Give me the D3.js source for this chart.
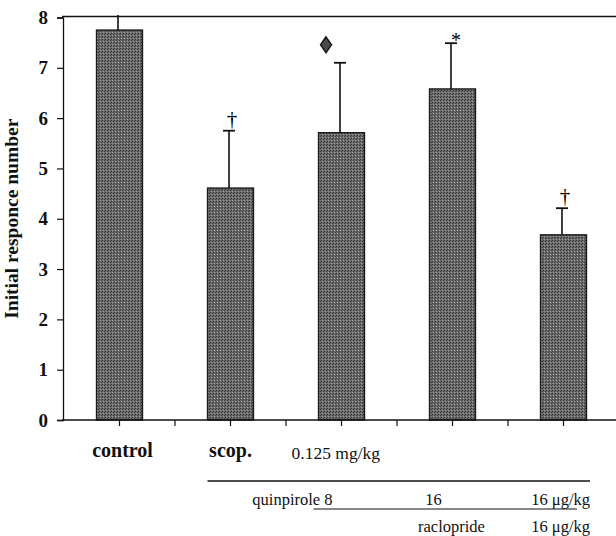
<!DOCTYPE html>
<html>
<head>
<meta charset="utf-8">
<script src="https://cdnjs.cloudflare.com/ajax/libs/d3/7.8.5/d3.min.js"></script>
<style>
  body { margin: 0; background: #fff; }
  svg { display: block; }
  text { font-family: "Liberation Serif", "DejaVu Serif", serif; }
</style>
</head>
<body>
<svg id="chart" width="616" height="536"></svg>
<script>
// data
const groups = ["control", "scop.", "quin8", "quin16", "quin16+raclo16"]
const means = [7.75, 4.61, 5.71, 6.58, 3.68]
const errs = [0.3, 1.14, 1.39, 0.91, 0.53]
const marks = ["", "†", "♦", "*", "†"]
const yTicks = [0, 1, 2, 3, 4, 5, 6, 7, 8]

const serif = "Liberation Serif"
const svg = d3.select("#chart")

const x = d3.scaleBand()
  .domain(groups)
  .range([64, 619])
  .paddingInner(0.586)
  .paddingOuter(0.293)
const y = d3.scaleLinear()
  .domain([0, 8])
  .range([420, 17.5])

// stipple texture like the scanned bars
const defs = svg.append("defs")
const pat = defs.append("pattern")
  .attr("id", "stip")
  .attr("width", 3).attr("height", 3)
  .attr("patternUnits", "userSpaceOnUse")
pat.append("rect").attr("width", 3).attr("height", 3).attr("fill", "#6e6e6e")
pat.append("rect").attr("x", 0).attr("y", 0).attr("width", 1).attr("height", 1).attr("fill", "#2e2e2e")
pat.append("rect").attr("x", 2).attr("y", 1).attr("width", 1).attr("height", 1).attr("fill", "#3a3a3a")
pat.append("rect").attr("x", 1).attr("y", 2).attr("width", 1).attr("height", 1).attr("fill", "#9a9a9a")

// top frame line
svg.append("line")
  .attr("x1", 62).attr("x2", 616)
  .attr("y1", y(8) - 1).attr("y2", y(8) - 1)
  .attr("stroke", "#111").attr("stroke-width", 1.3)

// y axis
const yAxis = svg.append("g")
  .attr("transform", "translate(63,0)")
  .call(d3.axisLeft(y).tickValues(yTicks).tickSize(6).tickPadding(9).tickFormat(d3.format("d")))
yAxis.select(".domain").attr("stroke", "#111").attr("stroke-width", 1.3)
yAxis.selectAll(".tick line").attr("stroke", "#111").attr("stroke-width", 1.2)
yAxis.selectAll(".tick text")
  .attr("font-family", serif).attr("font-size", 19)
  .attr("font-weight", "bold").attr("fill", "#111")

svg.append("text")
  .attr("transform", `translate(18,${y(4)}) rotate(-90)`)
  .attr("text-anchor", "middle")
  .attr("font-family", serif)
  .attr("font-size", 19.5).attr("font-weight", "bold").attr("fill", "#111")
  .text("Initial responce number")

// bars
svg.selectAll(".bar").data(groups).join("rect")
  .attr("class", "bar")
  .attr("x", d => x(d))
  .attr("width", x.bandwidth())
  .attr("y", (d, i) => y(means[i]))
  .attr("height", (d, i) => y(0) - y(means[i]))
  .attr("fill", "url(#stip)")
  .attr("stroke", "#1a1a1a").attr("stroke-width", 1.4)

// error bars (upper only)
const ex = d => x(d) + x.bandwidth() / 2 - 1.5
svg.selectAll(".whisk").data(groups).join("line")
  .attr("class", "whisk")
  .attr("x1", ex).attr("x2", ex)
  .attr("y1", (d, i) => y(means[i]))
  .attr("y2", (d, i) => y(means[i] + errs[i]))
  .attr("stroke", "#111").attr("stroke-width", 1.6)
svg.selectAll(".cap").data(groups).join("line")
  .attr("class", "cap")
  .attr("x1", d => ex(d) - 6).attr("x2", d => ex(d) + 6)
  .attr("y1", (d, i) => y(means[i] + errs[i]))
  .attr("y2", (d, i) => y(means[i] + errs[i]))
  .attr("stroke", "#111").attr("stroke-width", 1.8)
  .attr("opacity", (d, i) => i === 0 ? 0 : 1)

// significance marks
groups.forEach((g, i) => {
  const top = y(means[i] + errs[i])
  if (marks[i] === "♦") {
    const cx = ex(g) - 14, cy = top - 18
    svg.append("path")
      .attr("d", `M${cx},${cy - 8}L${cx + 5.5},${cy}L${cx},${cy + 8}L${cx - 5.5},${cy}Z`)
      .attr("fill", "#4a4a4a").attr("stroke", "#111").attr("stroke-width", 1.4)
  } else if (marks[i] === "*") {
    svg.append("text")
      .attr("x", ex(g) + 5).attr("y", top + 4)
      .attr("text-anchor", "middle")
      .attr("font-family", serif)
      .attr("font-size", 20).attr("fill", "#000")
      .text(marks[i])
  } else if (marks[i]) {
    svg.append("text")
      .attr("x", ex(g) + 3).attr("y", top - 5)
      .attr("text-anchor", "middle")
      .attr("font-family", serif)
      .attr("font-size", 21).attr("fill", "#000")
      .text(marks[i])
  }
})

// x axis with ticks at band centres and band edges
const xTickPos = []
groups.forEach(g => {
  xTickPos.push(x(g) - x.step() * x.paddingInner() / 2)
  xTickPos.push(x(g) + x.bandwidth() / 2)
})
svg.append("line")
  .attr("x1", 62).attr("x2", 616)
  .attr("y1", y(0)).attr("y2", y(0))
  .attr("stroke", "#111").attr("stroke-width", 1.3)
svg.selectAll(".xt").data(xTickPos.slice(1)).join("line")
  .attr("class", "xt")
  .attr("x1", d => d).attr("x2", d => d)
  .attr("y1", y(0)).attr("y2", y(0) + 6)
  .attr("stroke", "#111").attr("stroke-width", 1.2)

// treatment labels under the axis
const cx = g => x(g) + x.bandwidth() / 2
const lab = (t, xx, yy, anchor, size, bold) => svg.append("text")
  .attr("x", xx).attr("y", yy)
  .attr("text-anchor", anchor)
  .attr("font-family", serif)
  .attr("font-size", size)
  .attr("font-weight", bold ? "bold" : "normal")
  .attr("fill", "#111")
  .text(t)

lab("control", cx(groups[0]) + 3, 457, "middle", 20, true)
lab("scop.", cx(groups[1]), 457, "middle", 20, true)
lab("0.125 mg/kg", x(groups[2]) - 27, 459, "start", 17.5, false)

svg.append("line")
  .attr("x1", x(groups[1])).attr("x2", 590)
  .attr("y1", 481).attr("y2", 481)
  .attr("stroke", "#111").attr("stroke-width", 1.3)
lab("quinpirole 8", cx(groups[2]) - 9, 505, "end", 16.5, false)
lab("16", cx(groups[3]) - 19, 505, "middle", 16.5, false)
lab("16 μg/kg", 590, 505, "end", 16.5, false)

svg.append("line")
  .attr("x1", x(groups[2]) - 5).attr("x2", 577)
  .attr("y1", 509).attr("y2", 509)
  .attr("stroke", "#111").attr("stroke-width", 1.2)
lab("raclopride", 418, 532, "start", 16.5, false)
lab("16 μg/kg", 590, 532, "end", 16.5, false)
</script>
</body>
</html>
